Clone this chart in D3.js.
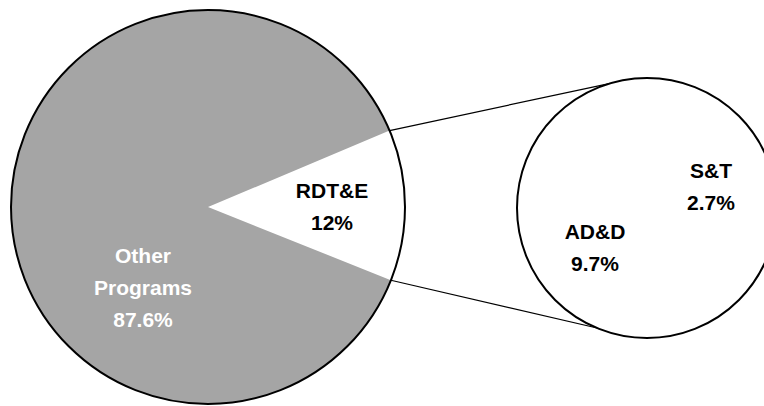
<!DOCTYPE html>
<html>
<head>
<meta charset="utf-8">
<script src="https://cdn.jsdelivr.net/npm/d3@7"></script>
<style>
  html, body { margin: 0; padding: 0; background: #fff; }
  svg { display: block; }
  text { font-family: "Liberation Sans", Arial, sans-serif; font-weight: bold; font-size: 21px; }
</style>
</head>
<body>
<script>
// main split of the budget
const mainNames = ["RDT&E", "Other Programs"];
const mainLabels = [["RDT&E", "12%"], ["Other", "Programs", "87.6%"]];
const otherShare = 87.6;

// RDT&E broken down
const subNames = ["S&T", "AD&D"];
const subValues = [2.7, 9.7];
const subLabels = [["S&T", "2.7%"], ["AD&D", "9.7%"]];

(function () {
  'use strict';

  const width = 764, height = 406;
  const lineH = 32;

  const big = { x: 208, y: 207, r: 197 };
  const small = { x: 647, y: 208, r: 130 };

  // label anchors (first baseline, centre x) relative to each circle centre
  const mainLabelAt = [[124, -9], [-65, 56]];
  const subLabelAt = [[64, -30], [-52, 31]];
  // where the connector lines meet the small circle (degrees, 0 = up, clockwise)
  const joinAngles = [343.6, 202.6];

  const rdtShare = d3.sum(subValues);
  const mainValues = [rdtShare, otherShare];
  const total = d3.sum(mainValues);
  const half = rdtShare / total * Math.PI;
  const mid = 89.5 / 180 * Math.PI;

  const svg = d3.select("body").append("svg")
    .attr("width", width)
    .attr("height", height);

  const pie = d3.pie().sort(null)
    .startAngle(mid - half)
    .endAngle(mid - half + 2 * Math.PI);

  const arc = d3.arc().innerRadius(0).outerRadius(big.r);
  const slices = pie(mainValues);

  const gBig = svg.append("g").attr("transform", "translate(" + big.x + "," + big.y + ")");

  gBig.selectAll("path")
    .data(slices)
    .enter().append("path")
      .attr("d", arc)
      .attr("fill", (d, i) => i === 0 ? "#ffffff" : "#a5a5a5")
      .attr("stroke", "none");

  gBig.append("circle")
    .attr("r", big.r)
    .attr("fill", "none")
    .attr("stroke", "#000")
    .attr("stroke-width", 2);

  // connector lines
  function polar(c, ang, r) {
    return [c.x + r * Math.sin(ang), c.y - r * Math.cos(ang)];
  }
  const rdt = slices[0];
  const links = [
    [polar(big, rdt.startAngle, big.r), polar(small, joinAngles[0] / 180 * Math.PI, small.r)],
    [polar(big, rdt.endAngle, big.r), polar(small, joinAngles[1] / 180 * Math.PI, small.r)]
  ];
  svg.append("g").selectAll("line")
    .data(links)
    .enter().append("line")
      .attr("x1", d => d[0][0]).attr("y1", d => d[0][1])
      .attr("x2", d => d[1][0]).attr("y2", d => d[1][1])
      .attr("stroke", "#000")
      .attr("stroke-width", 1.2);

  // secondary pie
  const subPie = d3.pie().sort(null).startAngle(0.6).endAngle(0.6 + 2 * Math.PI);
  const subArc = d3.arc().innerRadius(0).outerRadius(small.r);
  const gSmall = svg.append("g").attr("transform", "translate(" + small.x + "," + small.y + ")");
  gSmall.selectAll("path")
    .data(subPie(subValues))
    .enter().append("path")
      .attr("d", subArc)
      .attr("fill", "#fff");
  gSmall.append("circle")
    .attr("r", small.r)
    .attr("fill", "none")
    .attr("stroke", "#000")
    .attr("stroke-width", 2);

  function addLabels(g, labels, at, color) {
    labels.forEach(function (lines, i) {
      const t = g.append("text")
        .attr("text-anchor", "middle")
        .attr("fill", color[i]);
      lines.forEach(function (s, j) {
        t.append("tspan")
          .attr("x", at[i][0])
          .attr("y", at[i][1] + j * lineH)
          .text(s);
      });
    });
  }

  addLabels(gBig, mainLabels, mainLabelAt, ["#000", "#fff"]);
  addLabels(gSmall, subLabels, subLabelAt, ["#000", "#000"]);
}());
</script>
</body>
</html>
